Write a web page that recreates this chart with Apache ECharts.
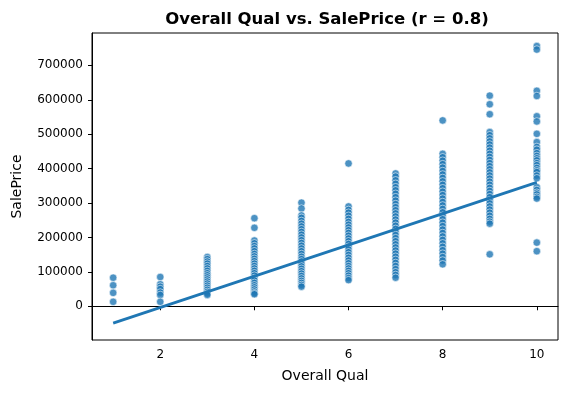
<!DOCTYPE html>
<html>
<head>
<meta charset="utf-8">
<script src="https://cdn.jsdelivr.net/npm/echarts@6/dist/echarts.min.js"></script>
<style>html,body{margin:0;padding:0;background:#fff;}#chart{width:566px;height:393px;}</style>
</head>
<body>
<div id="chart"></div>
<script>
const xTicks = [2, 4, 6, 8, 10];
const yTicks = [0, 100000, 200000, 300000, 400000, 500000, 600000, 700000];
const qualLevels = [1, 2, 3, 4, 5, 6, 7, 8, 9, 10];
const q1 = [83000, 61000, 39000, 13000];
const q2 = [85000, 64000, 57000, 50000, 40000, 33000, 13000];
const q3 = [143000, 137000, 130000, 124000, 117000, 110000, 103000, 96000, 90000, 84000, 78000, 72000, 66000, 60000, 54000, 48000, 42000, 37000, 33000];
const q4 = [256000, 228000, 191000, 183000, 175000, 168000, 160000, 152000, 145000, 138000, 131000, 124000, 117000, 110000, 103000, 96000, 89000, 82000, 75000, 68000, 61000, 55000, 49000, 43000, 38000, 35000];
const q5 = [301000, 284000, 264000, 257000, 248000, 240000, 232000, 224000, 216000, 208000, 200000, 192000, 184000, 176000, 168000, 160000, 152000, 144000, 137000, 130000, 123000, 116000, 109000, 102000, 95000, 88000, 81000, 74000, 68000, 62000, 57000];
const q6 = [415000, 290000, 280000, 272000, 263000, 254000, 245000, 237000, 229000, 221000, 213000, 205000, 197000, 189000, 181000, 173000, 165000, 157000, 149000, 141000, 133000, 125000, 117000, 110000, 103000, 96000, 89000, 82000, 76000];
const q7 = [386000, 377000, 366000, 356000, 346000, 337000, 327000, 317000, 307000, 297000, 288000, 279000, 270000, 261000, 252000, 243000, 234000, 225000, 216000, 207000, 198000, 189000, 180000, 171000, 162000, 153000, 144000, 135000, 126000, 117000, 108000, 99000, 91000, 83000];
const q8 = [540000, 443000, 433000, 423000, 413000, 403000, 393000, 383000, 373000, 363000, 353000, 343000, 333000, 323000, 313000, 303000, 293000, 283000, 273000, 263000, 253000, 243000, 233000, 223000, 213000, 203000, 193000, 183000, 173000, 163000, 153000, 143000, 133000, 122000];
const q9 = [612000, 587000, 558000, 506000, 497000, 488000, 479000, 470000, 461000, 452000, 443000, 434000, 425000, 416000, 407000, 398000, 389000, 380000, 371000, 362000, 353000, 344000, 335000, 326000, 317000, 308000, 299000, 290000, 281000, 272000, 263000, 254000, 246000, 240000, 151000];
const q10 = [756000, 746000, 626000, 611000, 552000, 537000, 501000, 477000, 463000, 455000, 445000, 437000, 430000, 424000, 416000, 410000, 402000, 395000, 390000, 380000, 372000, 346000, 338000, 330000, 325000, 318000, 313000, 185000, 160000];
const fitX = [1, 10];
const fitY = [-49000, 360000];

const groups = [q1, q2, q3, q4, q5, q6, q7, q8, q9, q10];
const points = [];
groups.forEach((vals, i) => vals.forEach(v => points.push([qualLevels[i], v])));
const fitLine = fitX.map((x, i) => [x, fitY[i]]);

const font = 'DejaVu Sans';
const chart = echarts.init(document.getElementById('chart'), null, {renderer: 'canvas'});
chart.setOption({
  animation: false,
  backgroundColor: '#fff',
  title: {
    text: 'Overall Qual vs. SalePrice (r = 0.8)',
    left: 322, top: 6, textAlign: 'center',
    textStyle: {fontFamily: font, fontSize: 16.5, fontWeight: 'bold', color: '#000'}
  },
  grid: {left: 92, right: 8, top: 33, bottom: 53, show: true, borderColor: '#000', borderWidth: 1, backgroundColor: 'transparent'},
  xAxis: {
    type: 'value', min: 0.55, max: 10.45,
    name: 'Overall Qual', nameLocation: 'middle', nameGap: 29,
    nameTextStyle: {fontFamily: font, fontSize: 14, color: '#000'},
    axisLine: {show: true, lineStyle: {color: '#000', width: 1}},
    axisTick: {show: true, length: 4, customValues: xTicks, lineStyle: {color: '#000'}},
    axisLabel: {customValues: xTicks, fontFamily: font, fontSize: 12, color: '#000', margin: 9},
    splitLine: {show: false}
  },
  yAxis: {
    type: 'value', min: -98000, max: 794000,
    name: 'SalePrice', nameLocation: 'middle', nameGap: 68, nameRotate: 90,
    nameTextStyle: {fontFamily: font, fontSize: 14, color: '#000'},
    axisLine: {show: true, lineStyle: {color: '#000', width: 1}},
    axisTick: {show: true, length: 4, customValues: yTicks, lineStyle: {color: '#000'}},
    axisLabel: {customValues: yTicks, fontFamily: font, fontSize: 12, color: '#000', margin: 9,
      formatter: v => String(v)},
    splitLine: {show: false}
  },
  series: [
    {
      type: 'scatter', data: points, symbolSize: 7.5, z: 2,
      itemStyle: {color: '#1f77b4', opacity: 0.8, borderColor: '#fff', borderWidth: 0.7}
    },
    {
      type: 'line', data: fitLine, showSymbol: false, symbol: 'none', z: 3,
      lineStyle: {color: '#1f77b4', width: 2.8}
    }
  ]
});
</script>
</body>
</html>
